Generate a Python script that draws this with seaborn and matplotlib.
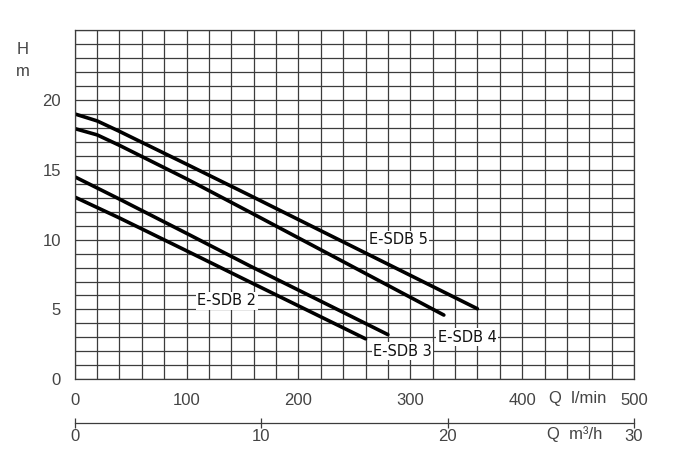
import numpy as np
import pandas as pd
import matplotlib
matplotlib.use("Agg")
import matplotlib.pyplot as plt
import seaborn as sns

# ---- data (Q in l/min, H in m) ----
q_sdb5 = [0, 20, 40, 100, 157, 360]
h_sdb5 = [19.0, 18.5, 17.75, 15.4, 13.15, 5.05]
q_sdb4 = [0, 20, 40, 100, 157, 330]
h_sdb4 = [17.95, 17.5, 16.75, 14.35, 11.95, 4.6]
q_sdb3 = [0, 20, 40, 100, 157, 280]
h_sdb3 = [14.5, 13.7, 12.9, 10.45, 8.1, 3.2]
q_sdb2 = [0, 20, 40, 100, 157, 260]
h_sdb2 = [13.05, 12.3, 11.55, 9.2, 6.95, 2.9]
models = ["E-SDB 5", "E-SDB 4", "E-SDB 3", "E-SDB 2"]
x_ticks = [0, 100, 200, 300, 400, 500]
y_ticks = [0, 5, 10, 15, 20, 25]
y_ticklabels = ["0", "5", "10", "15", "20", ""]
m3h_ticks = [0, 10, 20, 30]

frames = []
for name, q, h in zip(models, [q_sdb5, q_sdb4, q_sdb3, q_sdb2],
                      [h_sdb5, h_sdb4, h_sdb3, h_sdb2]):
    frames.append(pd.DataFrame({"Q": q, "H": h, "model": name}))
df = pd.concat(frames, ignore_index=True)

# label anchor positions (data coords)
label_pos = {"E-SDB 5": (289, 10.0), "E-SDB 4": (351, 3.0),
             "E-SDB 3": (293, 2.0), "E-SDB 2": (136, 5.63)}

sns.set_theme(style="white")
plt.rcParams["font.family"] = ["DejaVu Sans"]

W, H = 697, 468
fig = plt.figure(figsize=(W / 100, H / 100), dpi=100)
left, right, top, bottom = 74.7, 634, 30.1, 379.3
ax = fig.add_axes([left / W, 1 - bottom / H, (right - left) / W, (bottom - top) / H])

gridc = "#3c3c3c"
ax.set_xlim(0, 500)
ax.set_ylim(0, 25)
ax.set_xticks(np.arange(0, 501, 20), minor=True)
ax.set_yticks(np.arange(0, 26, 1), minor=True)
ax.set_xticks(x_ticks)
ax.set_yticks(y_ticks)
ax.set_yticklabels(y_ticklabels)
ax.grid(which="both", color=gridc, linewidth=0.9)
ax.set_axisbelow(True)
for s in ax.spines.values():
    s.set_visible(True)
    s.set_color(gridc)
    s.set_linewidth(0.9)

tickfont = ["Liberation Sans Narrow", "Liberation Sans", "DejaVu Sans"]
ax.tick_params(which="major", direction="out", length=6, width=0.9, color=gridc,
               labelsize=12, labelcolor="#444444", pad=4)
ax.tick_params(which="minor", length=0)
for lab in ax.get_xticklabels() + ax.get_yticklabels():
    lab.set_fontfamily(tickfont)

sns.lineplot(data=df, x="Q", y="H", hue="model", units="model", estimator=None,
             sort=False, palette=["black"] * 4, linewidth=2.6, legend=False, ax=ax)
for ln in ax.get_lines():
    ln.set_solid_joinstyle("round")
ax.set_xlabel("")
ax.set_ylabel("")

for name in models:
    x, y = label_pos[name]
    ax.text(x, y, name, ha="center", va="center", fontsize=10.5, color="#111111",
            bbox=dict(facecolor="white", edgecolor="none", pad=1.0), zorder=5)

# secondary axis in m3/h
loc = (bottom - 422.7) / (bottom - top)
sec = ax.secondary_xaxis(loc, functions=(lambda q: q * 0.06, lambda m: m / 0.06))
sec.set_xticks(m3h_ticks)
sec.spines["bottom"].set_color(gridc)
sec.spines["bottom"].set_linewidth(0.9)
sec.tick_params(direction="inout", length=7, width=0.9, color=gridc,
                labelsize=12, labelcolor="#444444", pad=1)
for lab in sec.get_xticklabels():
    lab.set_fontfamily(tickfont)

# axis titles
fig.text(578 / W, 1 - 398.7 / H, "Q  l/min", ha="center", va="center",
         fontsize=12, color="#444444", family=tickfont)
fig.text(575 / W, 1 - 434 / H, "Q  m³/h", ha="center", va="center",
         fontsize=12, color="#444444", family=tickfont)
fig.text(23 / W, 1 - 50 / H, "H", ha="center", va="center",
         fontsize=12, color="#444444", family=tickfont)
fig.text(23 / W, 1 - 71.5 / H, "m", ha="center", va="center",
         fontsize=12, color="#444444", family=tickfont)

fig.savefig("out.png", dpi=100, facecolor="white")
